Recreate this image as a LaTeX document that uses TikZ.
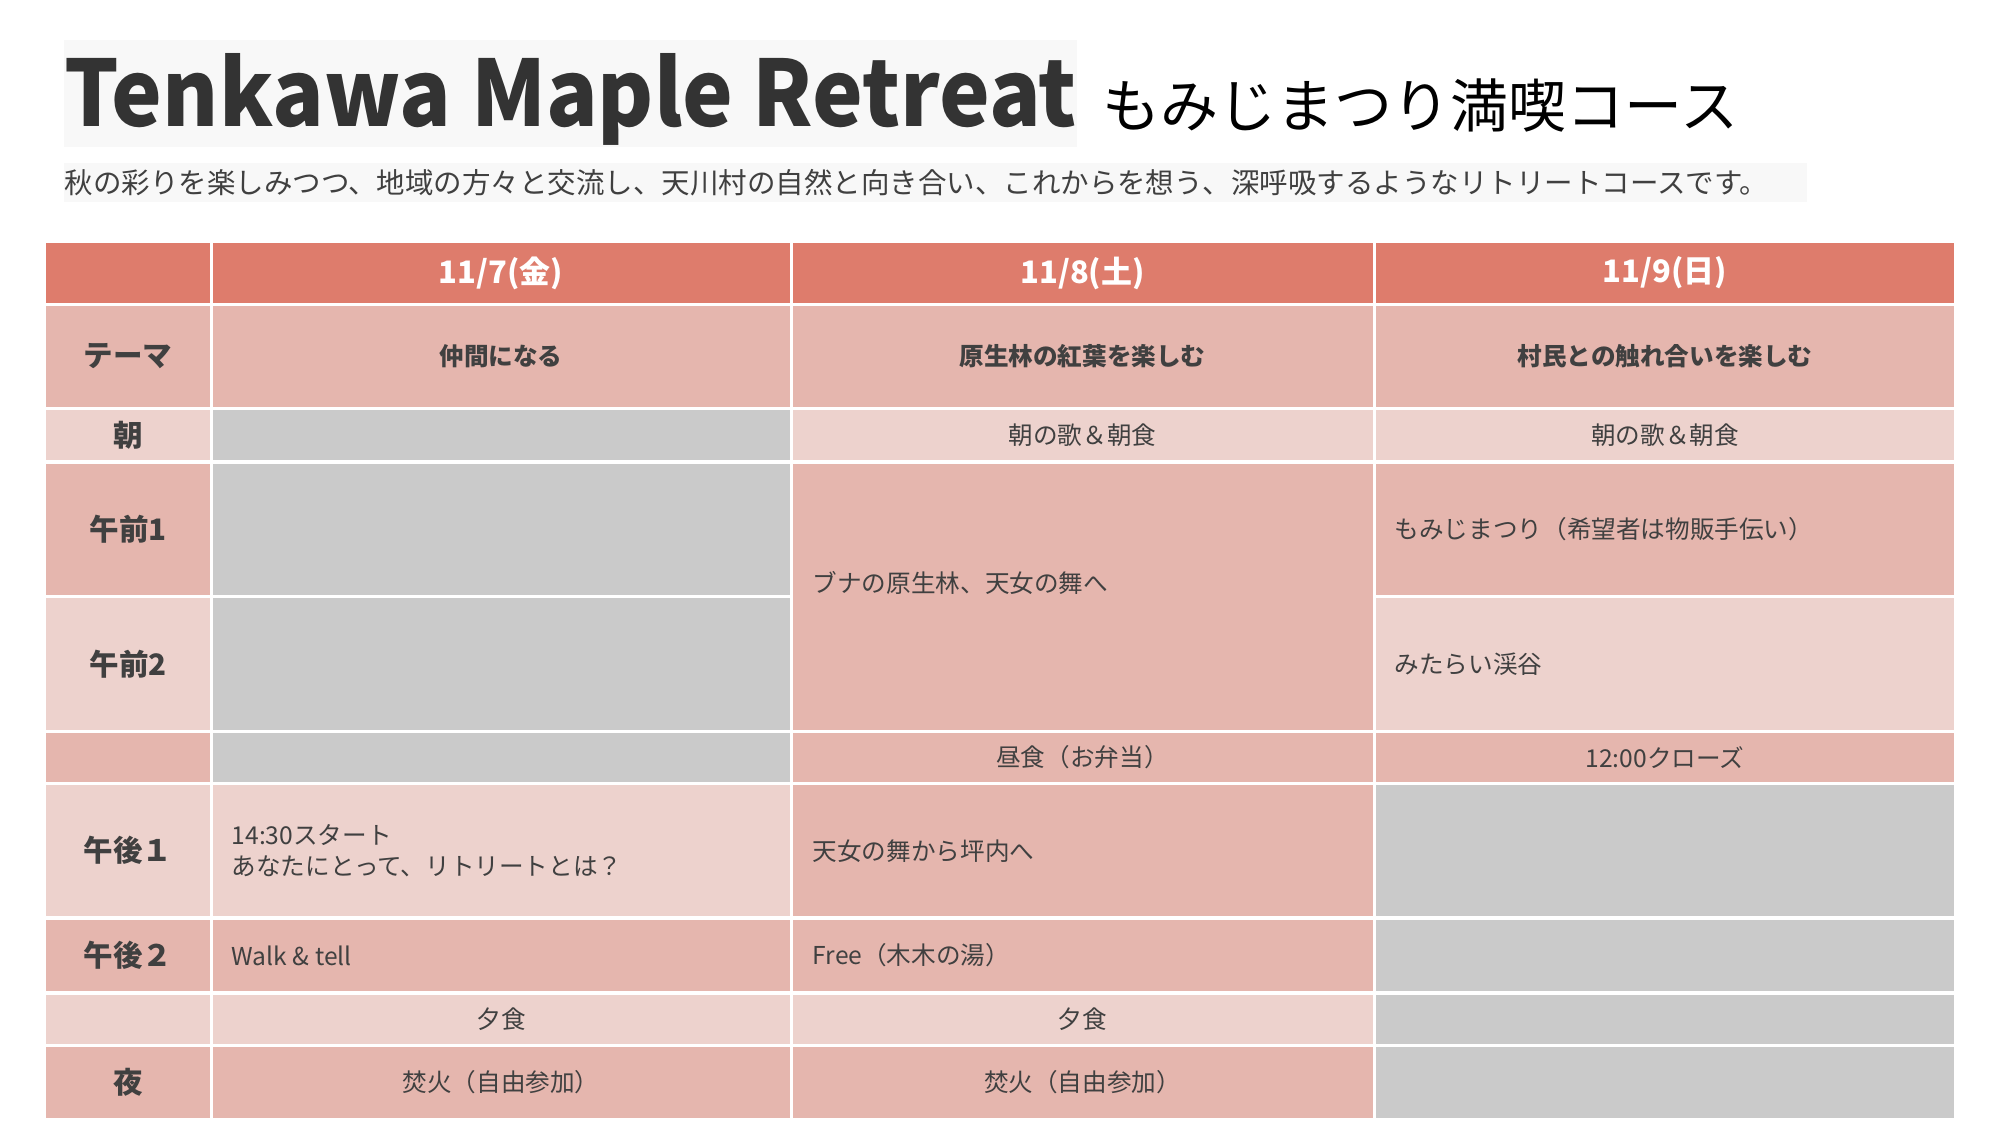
\documentclass[tikz,border=0pt]{standalone}
\usepackage{fontspec}
\setmainfont{Noto Sans CJK JP}
\definecolor{hdr}{HTML}{DE7C6C}
\definecolor{dk}{HTML}{E5B6AE}
\definecolor{lt}{HTML}{EDD2CD}
\definecolor{gr}{HTML}{CACACA}
\definecolor{txt}{HTML}{404040}
\definecolor{ttl}{HTML}{333333}
\definecolor{boxbg}{HTML}{F8F8F8}
\begin{document}
\begin{tikzpicture}[x=0.01cm,y=-0.01cm,inner sep=0pt,
  hd/.style={font=\bfseries\fontsize{8.8}{10}\selectfont,text=white},
  lab/.style={font=\bfseries\fontsize{8.4}{10}\selectfont,text=txt},
  thm/.style={font=\bfseries\fontsize{7}{8}\selectfont,text=txt},
  ct/.style={font=\fontsize{7}{8.8}\selectfont,text=txt},
  cl/.style={ct,anchor=west,align=left}]
\useasboundingbox (0,0) rectangle (2000,1125);
\fill[white] (0,0) rectangle (2000,1125);
% title area
\fill[boxbg] (64,40) rectangle (1077,147);
\fill[boxbg] (64,163) rectangle (1807,202);
\node[anchor=base west,font=\bfseries\fontsize{26}{30}\selectfont,text=ttl] (title) at (64,127) {\scalebox{0.935}[1]{Tenkawa Maple Retreat}};
\node[anchor=base west,font=\fontsize{16.5}{20}\selectfont,text=black] (jtitle) at (1102,128) {もみじまつり満喫コース};
\node[anchor=west,font=\fontsize{8.1}{9}\selectfont,text=txt] (sub) at (64,183) {秋の彩りを楽しみつつ、地域の方々と交流し、天川村の自然と向き合い、これからを想う、深呼吸するようなリトリートコースです。};
% header row
\fill[hdr] (46,243) rectangle (209.5,303);
\fill[hdr] (212.5,243) rectangle (789.5,303);
\fill[hdr] (792.5,243) rectangle (1372.5,303);
\fill[hdr] (1375.5,243) rectangle (1954,303);
% theme row
\fill[dk] (46,306) rectangle (209.5,407);
\fill[dk] (212.5,306) rectangle (789.5,407);
\fill[dk] (792.5,306) rectangle (1372.5,407);
\fill[dk] (1375.5,306) rectangle (1954,407);
% morning
\fill[lt] (46,410) rectangle (209.5,460);
\fill[gr] (212.5,410) rectangle (789.5,460);
\fill[lt] (792.5,410) rectangle (1372.5,460);
\fill[lt] (1375.5,410) rectangle (1954,460);
% am1 / am2
\fill[dk] (46,464) rectangle (209.5,595);
\fill[gr] (212.5,464) rectangle (789.5,595);
\fill[dk] (792.5,464) rectangle (1372.5,730);
\fill[dk] (1375.5,464) rectangle (1954,595);
\fill[lt] (46,598) rectangle (209.5,730);
\fill[gr] (212.5,598) rectangle (789.5,730);
\fill[lt] (1375.5,598) rectangle (1954,730);
% lunch
\fill[dk] (46,733) rectangle (209.5,782);
\fill[gr] (212.5,733) rectangle (789.5,782);
\fill[dk] (792.5,733) rectangle (1372.5,782);
\fill[dk] (1375.5,733) rectangle (1954,782);
% pm1
\fill[lt] (46,785) rectangle (209.5,916);
\fill[lt] (212.5,785) rectangle (789.5,916);
\fill[dk] (792.5,785) rectangle (1372.5,916);
\fill[gr] (1375.5,785) rectangle (1954,916);
% pm2
\fill[dk] (46,920) rectangle (209.5,991);
\fill[dk] (212.5,920) rectangle (789.5,991);
\fill[dk] (792.5,920) rectangle (1372.5,991);
\fill[gr] (1375.5,920) rectangle (1954,991);
% dinner
\fill[lt] (46,995) rectangle (209.5,1044);
\fill[lt] (212.5,995) rectangle (789.5,1044);
\fill[lt] (792.5,995) rectangle (1372.5,1044);
\fill[gr] (1375.5,995) rectangle (1954,1044);
% night
\fill[dk] (46,1047) rectangle (209.5,1118);
\fill[dk] (212.5,1047) rectangle (789.5,1118);
\fill[dk] (792.5,1047) rectangle (1372.5,1118);
\fill[gr] (1375.5,1047) rectangle (1954,1118);
% header text
\node[hd] (d1) at (501,273) {11/7(金)};
\node[hd] (d2) at (1082.5,273) {11/8(土)};
\node[hd] (d3) at (1665,273) {11/9(日)};
% labels
\node[lab] (l1) at (128,356.5) {テーマ};
\node[lab] (l2) at (128,435) {朝};
\node[lab] (l3) at (128,529.5) {午前1};
\node[lab] (l4) at (128,664) {午前2};
\node[lab] (l6) at (128,850.5) {午後１};
\node[lab] (l7) at (128,955.5) {午後２};
\node[lab] (l9) at (128,1082.5) {夜};
% themes
\node[thm] (t1) at (501,356.5) {仲間になる};
\node[thm] (t2) at (1082.5,356.5) {原生林の紅葉を楽しむ};
\node[thm] (t3) at (1665,356.5) {村民との触れ合いを楽しむ};
% morning
\node[ct] (m2) at (1082.5,435) {朝の歌＆朝食};
\node[ct] (m3) at (1665,435) {朝の歌＆朝食};
% am
\node[cl] (a2) at (812,583) {ブナの原生林、天女の舞へ};
\node[cl] (a3) at (1394,529.5) {もみじまつり（希望者は物販手伝い）};
\node[cl] (b3) at (1394,664) {みたらい渓谷};
% lunch
\node[ct] (lu2) at (1082.5,757.5) {昼食（お弁当）};
\node[ct] (lu3) at (1665,757.5) {12:00クローズ};
% pm1
\node[cl] (p1) at (231,851) {14:30スタート\\あなたにとって、リトリートとは？};
\node[cl] (p2) at (812,851) {天女の舞から坪内へ};
% pm2
\node[cl] (q1) at (231,955.5) {Walk \& tell};
\node[cl] (q2) at (812,955.5) {Free（木木の湯）};
% dinner
\node[ct] (e1) at (501,1019.5) {夕食};
\node[ct] (e2) at (1082.5,1019.5) {夕食};
% night
\node[ct] (n1) at (501,1082.5) {焚火（自由参加）};
\node[ct] (n2) at (1082.5,1082.5) {焚火（自由参加）};
\end{tikzpicture}
\end{document}
